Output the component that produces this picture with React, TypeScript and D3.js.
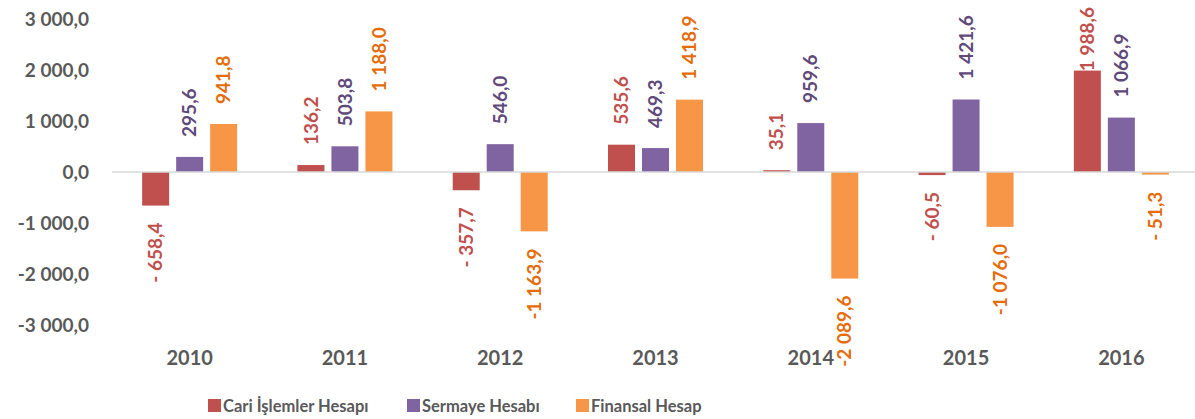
import React from "react";
import * as d3 from "d3";

const years = ["2010", "2011", "2012", "2013", "2014", "2015", "2016"];
const seriesNames = ["Cari İşlemler Hesapı", "Sermaye Hesabı", "Finansal Hesap"];
const cari = [-658.4, 136.2, -357.7, 535.6, 35.1, -60.5, 1988.6];
const sermaye = [295.6, 503.8, 546.0, 469.3, 959.6, 1421.6, 1066.9];
const finansal = [941.8, 1188.0, -1163.9, 1418.9, -2089.6, -1076.0, -51.3];
const yTicks = [3000, 2000, 1000, 0, -1000, -2000, -3000];

const barColors = ["#C0504D", "#8064A2", "#F79646"];
const labelColors = ["#C0504D", "#5F497A", "#E46C0A"];

const W = 1195;
const H = 419;
const FONT = "Lato, 'Open Sans', sans-serif";
const LABEL_SIZE = 19;

function fmtNum(v: number): string {
  const a = Math.abs(v);
  const s = a.toFixed(1).replace(".", ",");
  const [int, dec] = s.split(",");
  const grouped = int.replace(/\B(?=(\d{3})+(?!\d))/g, " ");
  return grouped + "," + dec;
}
function fmtLabel(v: number): string {
  if (v >= 0) return fmtNum(v);
  return Math.abs(v) < 1000 ? "- " + fmtNum(v) : "-" + fmtNum(v);
}
function fmtTick(v: number): string {
  return (v < 0 ? "-" : "") + fmtNum(v);
}

let ctx: CanvasRenderingContext2D | null = null;
function measure(text: string, size: number): number {
  if (typeof document === "undefined") return text.length * size * 0.55;
  if (!ctx) ctx = document.createElement("canvas").getContext("2d");
  if (!ctx) return text.length * size * 0.55;
  ctx.font = `bold ${size}px ${FONT}`;
  return ctx.measureText(text).width;
}

export default function App() {
  const data = [cari, sermaye, finansal];
  const x0 = d3.scaleBand<string>().domain(years).range([112, 1199]).padding(0);
  const x1 = d3
    .scaleBand<string>()
    .domain(seriesNames)
    .range([-47.5, 47.5])
    .paddingInner(7 / 34)
    .paddingOuter(0);
  const y = d3.scaleLinear().domain([-3000, 3000]).range([325, 19]);
  const legendX = [208, 407, 576];

  return (
    <svg
      width={W}
      height={H}
      style={{ position: "absolute", left: 0, top: 0, background: "#fff" }}
      fontFamily={FONT}
    >
      {yTicks.map((t) => (
        <text
          key={t}
          x={89}
          y={y(t)}
          dy="0.35em"
          textAnchor="end"
          fontSize={19}
          fontWeight="bold"
          fill="#595959"
        >
          {fmtTick(t)}
        </text>
      ))}
      {data.map((vals, si) =>
        vals.map((v, i) => {
          const xb = x0(years[i])! + x0.bandwidth() / 2 + x1(seriesNames[si])!;
          const yTop = y(Math.max(0, v));
          const h = Math.abs(y(v) - y(0));
          return (
            <rect
              key={`${si}-${i}`}
              x={xb}
              y={yTop}
              width={x1.bandwidth()}
              height={h}
              fill={barColors[si]}
            />
          );
        })
      )}
      <line x1={112} x2={W} y1={y(0)} y2={y(0)} stroke="#D9D9D9" strokeWidth={1.5} />
      {data.map((vals, si) =>
        vals.map((v, i) => {
          const cx =
            x0(years[i])! + x0.bandwidth() / 2 + x1(seriesNames[si])! + x1.bandwidth() / 2;
          const pos = v >= 0;
          const label = fmtLabel(v);
          let yy: number;
          if (pos) {
            const len = measure(label, LABEL_SIZE);
            yy = y(v) - 20;
            if (yy - len < 7) yy = 7 + len;
          } else {
            yy = y(v) + 17;
          }
          return (
            <text
              key={`l-${si}-${i}`}
              transform={`translate(${cx},${yy}) rotate(-90)`}
              textAnchor={pos ? "start" : "end"}
              dy="0.35em"
              fontSize={LABEL_SIZE}
              fontWeight="bold"
              fill={labelColors[si]}
            >
              {label}
            </text>
          );
        })
      )}
      {years.map((yr) => (
        <text
          key={yr}
          x={x0(yr)! + x0.bandwidth() / 2}
          y={365}
          textAnchor="middle"
          fontSize={20}
          fontWeight="bold"
          fill="#595959"
        >
          {yr}
        </text>
      ))}
      {seriesNames.map((s, si) => (
        <g key={s}>
          <rect x={legendX[si]} y={399} width={13} height={13} fill={barColors[si]} />
          <text
            x={legendX[si] + 15}
            y={412}
            fontSize={16.5}
            fontWeight="bold"
            fill="#595959"
          >
            {s}
          </text>
        </g>
      ))}
    </svg>
  );
}
